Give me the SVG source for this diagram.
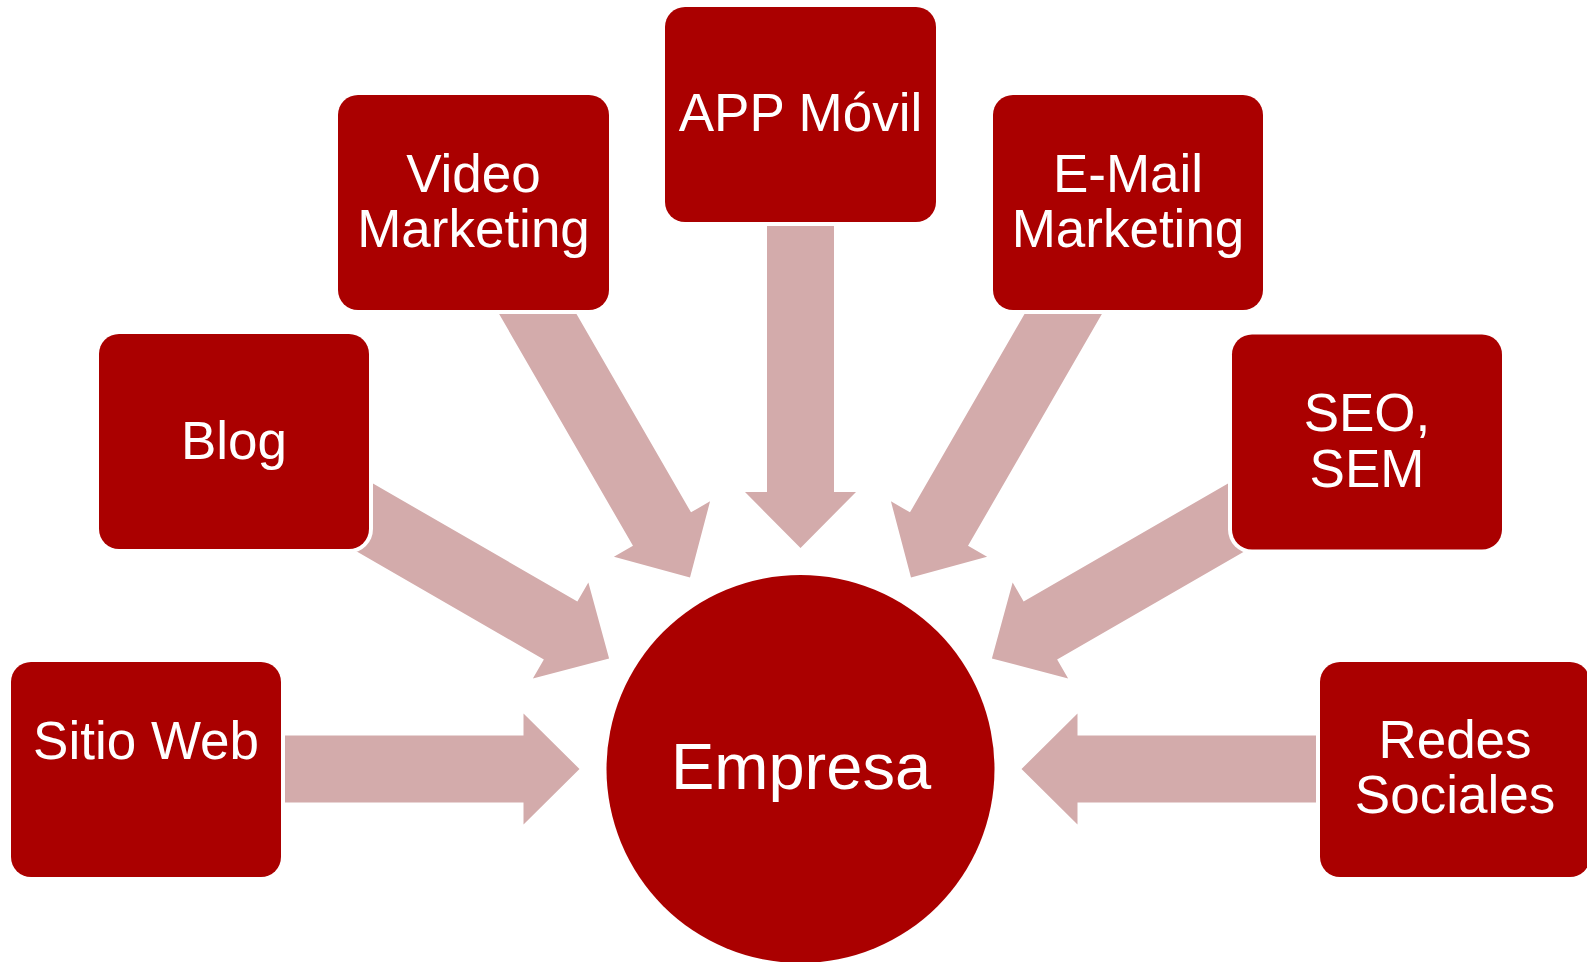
<svg xmlns="http://www.w3.org/2000/svg" xmlns:xlink="http://www.w3.org/1999/xlink" width="1587" height="962" viewBox="0 0 1587 962">
<style>
.arrow{fill:#D3ABAB}
.halo{fill:#FFFFFF}
.box{fill:#AA0000}
.lbl{fill:#FFFFFF;font-family:"Liberation Sans",Arial,sans-serif;font-size:53px;text-anchor:middle}
.big{font-size:65px}
</style>
<defs>
<polygon id="arr" class="arrow" points="221,0 277,-55.5 277,-33.5 560,-33.5 560,33.5 277,33.5 277,55.5"/>
</defs>
<rect x="0" y="0" width="1587" height="962" fill="#FFFFFF"/>
<g id="connectors">
<use xlink:href="#arr" href="#arr" transform="translate(800.5,769) rotate(180)"/>
<use xlink:href="#arr" href="#arr" transform="translate(800.5,769) rotate(-150)"/>
<use xlink:href="#arr" href="#arr" transform="translate(800.5,769) rotate(-120)"/>
<use xlink:href="#arr" href="#arr" transform="translate(800.5,769) rotate(-90)"/>
<use xlink:href="#arr" href="#arr" transform="translate(800.5,769) rotate(-60)"/>
<use xlink:href="#arr" href="#arr" transform="translate(800.5,769) rotate(-30)"/>
<use xlink:href="#arr" href="#arr" transform="translate(800.5,769)"/>
</g>
<g id="node-empresa">
<circle class="box" cx="800.5" cy="769" r="194"/>
<text class="lbl big" x="801" y="789">Empresa</text>
</g>
<g id="node-sitio-web">
<rect class="halo" x="7" y="658" width="278" height="223" rx="24"/>
<rect class="box" x="11" y="662" width="270" height="215" rx="20"/>
<text class="lbl" x="146" y="758.5">Sitio Web</text>
</g>
<g id="node-blog">
<rect class="halo" x="95" y="330" width="278" height="223" rx="24"/>
<rect class="box" x="99" y="334" width="270" height="215" rx="20"/>
<text class="lbl" x="234" y="458.5">Blog</text>
</g>
<g id="node-video-marketing">
<rect class="halo" x="334" y="91" width="279" height="223" rx="24"/>
<rect class="box" x="338" y="95" width="271" height="215" rx="20"/>
<text class="lbl" x="473.5" y="191.5">Video</text>
<text class="lbl" x="473.5" y="247">Marketing</text>
</g>
<g id="node-app-movil">
<rect class="halo" x="661" y="3" width="279" height="223" rx="24"/>
<rect class="box" x="665" y="7" width="271" height="215" rx="20"/>
<text class="lbl" x="800.5" y="131.3">APP Móvil</text>
</g>
<g id="node-email-marketing">
<rect class="halo" x="989" y="91" width="278" height="223" rx="24"/>
<rect class="box" x="993" y="95" width="270" height="215" rx="20"/>
<text class="lbl" x="1128" y="192">E-Mail</text>
<text class="lbl" x="1128" y="247.2">Marketing</text>
</g>
<g id="node-seo-sem">
<rect class="halo" x="1228" y="330.5" width="278" height="223" rx="24"/>
<rect class="box" x="1232" y="334.5" width="270" height="215" rx="20"/>
<text class="lbl" x="1367" y="431.3">SEO,</text>
<text class="lbl" x="1367" y="486.8">SEM</text>
</g>
<g id="node-redes-sociales">
<rect class="halo" x="1316" y="658" width="278" height="223" rx="24"/>
<rect class="box" x="1320" y="662" width="270" height="215" rx="20"/>
<text class="lbl" x="1455" y="758.3">Redes</text>
<text class="lbl" x="1455" y="813.3">Sociales</text>
</g>
</svg>
